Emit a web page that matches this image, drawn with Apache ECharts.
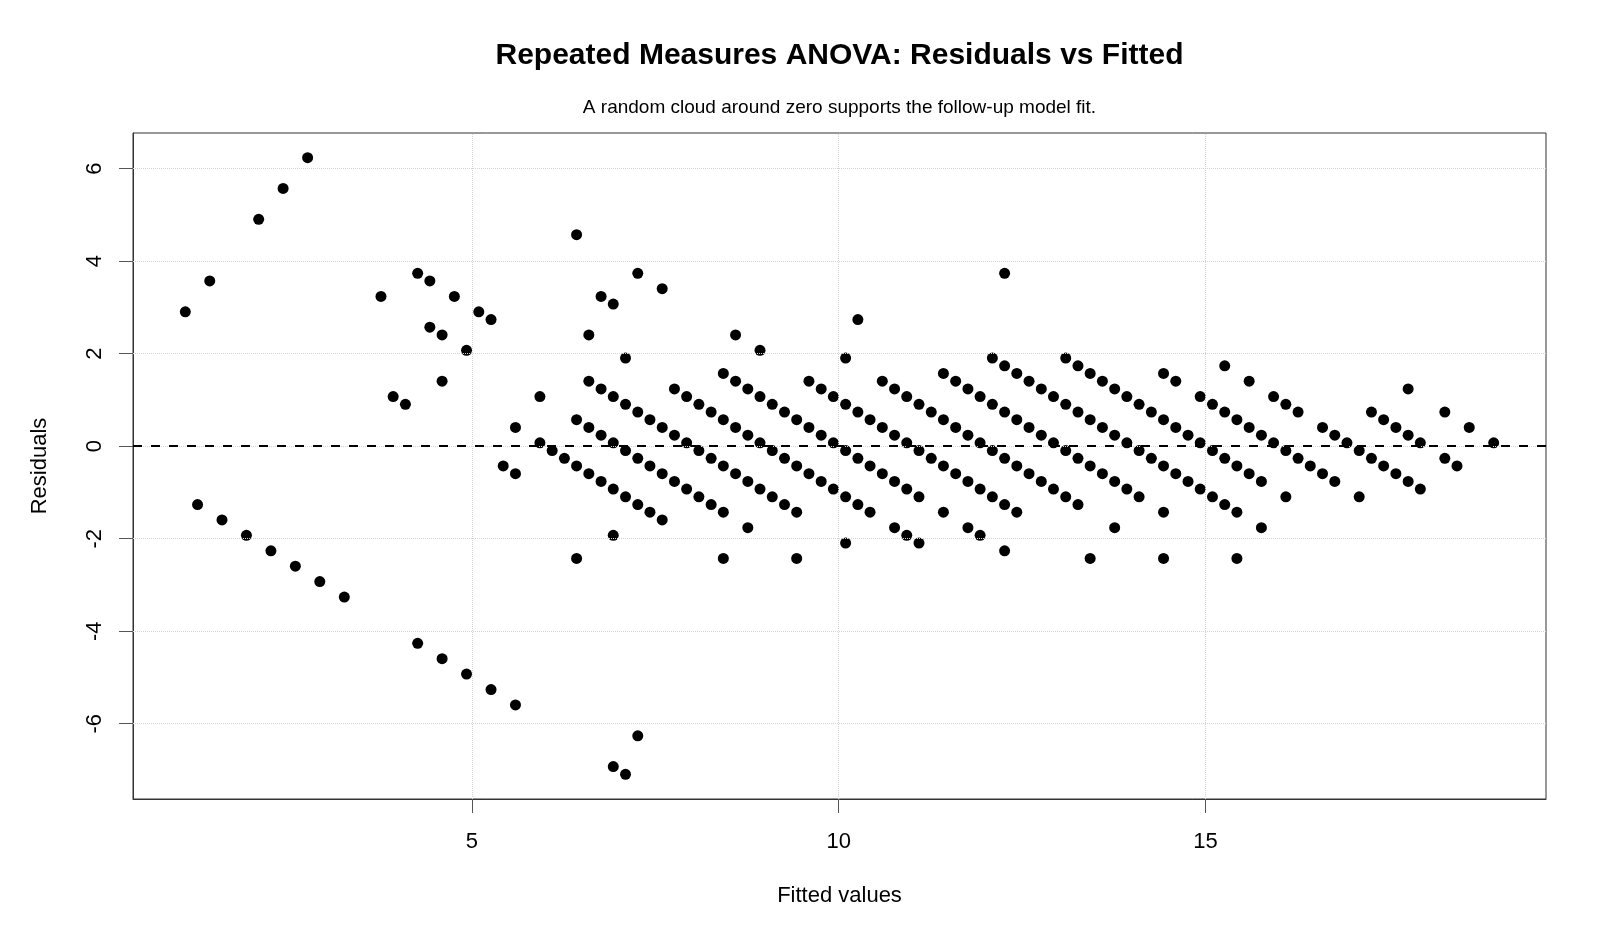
<!DOCTYPE html>
<html>
<head>
<meta charset="utf-8">
<title>Repeated Measures ANOVA: Residuals vs Fitted</title>
<script src="https://cdn.jsdelivr.net/npm/echarts@6.0.0/dist/echarts.min.js"></script>
<style>
  html, body { margin: 0; padding: 0; background: #fff; }
  #chart { width: 1600px; height: 933px; }
</style>
</head>
<body>
<div id="chart"></div>
<script>
// fitted values and residuals (grouped by diagonal)
const fitted = [
  1.261, 1.594, 1.927, 2.261, 2.594, 2.927, 3.261, 4.261, 4.594, 4.927, 5.261, 5.594, 6.927, 7.094,
  7.261,
  1.094, 6.427,
  1.427, 3.927, 4.094, 5.427, 5.594, 6.927,
  4.594, 5.594, 5.927, 6.094, 6.261, 6.427, 6.594, 6.761, 6.927, 7.094, 7.261, 7.427, 7.594, 8.427,
  2.094, 3.761, 4.427, 4.594, 4.927, 5.927, 6.427, 6.594, 6.761, 6.927, 7.094, 7.261, 7.427, 7.594, 7.761, 7.927, 8.094, 8.261, 8.427, 8.761, 9.427,
  2.427, 4.261, 4.427, 4.761, 5.094, 5.261, 6.594, 6.761, 6.927, 7.094, 7.261, 7.427, 7.594, 7.761, 7.927, 8.094, 8.261, 8.427, 8.594, 8.761, 8.927, 9.094, 9.261, 9.427, 10.094,
  2.761, 6.594, 7.094, 7.761, 7.927, 8.094, 8.261, 8.427, 8.594, 8.761, 8.927, 9.094, 9.261, 9.427, 9.594, 9.761, 9.927, 10.094, 10.261, 10.427, 10.761, 10.927, 11.094,
  6.761, 6.927, 8.427, 8.594, 8.761, 8.927, 9.094, 9.261, 9.427, 9.594, 9.761, 9.927, 10.094, 10.261, 10.427, 10.594, 10.761, 10.927, 11.094, 11.427, 11.761, 11.927, 12.261,
  6.427, 7.261, 7.594, 8.594, 8.927, 9.594, 9.761, 9.927, 10.094, 10.261, 10.427, 10.594, 10.761, 10.927, 11.094, 11.261, 11.427, 11.594, 11.761, 11.927, 12.094, 12.261, 12.427, 13.427,
  10.094, 10.594, 10.761, 10.927, 11.094, 11.261, 11.427, 11.594, 11.761, 11.927, 12.094, 12.261, 12.427, 12.594, 12.761, 12.927, 13.094, 13.261, 13.761, 14.427,
  10.261, 11.427, 11.594, 11.761, 11.927, 12.094, 12.261, 12.427, 12.594, 12.761, 12.927, 13.094, 13.261, 13.427, 13.594, 13.761, 13.927, 14.094, 14.427, 15.427,
  12.094, 12.261, 12.427, 12.594, 12.761, 12.927, 13.094, 13.261, 13.427, 13.594, 13.761, 13.927, 14.094, 14.261, 14.427, 14.594, 14.761, 14.927, 15.094, 15.261, 15.427, 15.761,
  13.094, 13.261, 13.427, 13.594, 13.761, 13.927, 14.094, 14.261, 14.427, 14.594, 14.761, 14.927, 15.094, 15.261, 15.427, 15.594, 15.761, 16.094,
  12.261, 14.427, 14.594, 14.927, 15.094, 15.261, 15.427, 15.594, 15.761, 15.927, 16.094, 16.261, 16.427, 16.594, 16.761, 17.094,
  15.261, 15.594, 15.927, 16.094, 16.261, 16.594, 16.761, 16.927, 17.094, 17.261, 17.427, 17.594, 17.761, 17.927,
  17.261, 17.427, 17.594, 17.761, 17.927, 18.261, 18.427,
  17.761, 18.261, 18.594, 18.927
]

const residuals = [
  -1.261, -1.594, -1.927, -2.261, -2.594, -2.927, -3.261, -4.261, -4.594, -4.927, -5.261, -5.594, -6.927, -7.094,
  -6.261,
  2.906, -2.427,
  3.573, 1.073, 0.906, -0.427, -0.594, -1.927,
  1.406, 0.406, 0.073, -0.094, -0.261, -0.427, -0.594, -0.761, -0.927, -1.094, -1.261, -1.427, -1.594, -2.427,
  4.906, 3.239, 2.573, 2.406, 2.073, 1.073, 0.573, 0.406, 0.239, 0.073, -0.094, -0.261, -0.427, -0.594, -0.761, -0.927, -1.094, -1.261, -1.427, -1.761, -2.427,
  5.573, 3.739, 3.573, 3.239, 2.906, 2.739, 1.406, 1.239, 1.073, 0.906, 0.739, 0.573, 0.406, 0.239, 0.073, -0.094, -0.261, -0.427, -0.594, -0.761, -0.927, -1.094, -1.261, -1.427, -2.094,
  6.239, 2.406, 1.906, 1.239, 1.073, 0.906, 0.739, 0.573, 0.406, 0.239, 0.073, -0.094, -0.261, -0.427, -0.594, -0.761, -0.927, -1.094, -1.261, -1.427, -1.761, -1.927, -2.094,
  3.239, 3.073, 1.573, 1.406, 1.239, 1.073, 0.906, 0.739, 0.573, 0.406, 0.239, 0.073, -0.094, -0.261, -0.427, -0.594, -0.761, -0.927, -1.094, -1.427, -1.761, -1.927, -2.261,
  4.573, 3.739, 3.406, 2.406, 2.073, 1.406, 1.239, 1.073, 0.906, 0.739, 0.573, 0.406, 0.239, 0.073, -0.094, -0.261, -0.427, -0.594, -0.761, -0.927, -1.094, -1.261, -1.427, -2.427,
  1.906, 1.406, 1.239, 1.073, 0.906, 0.739, 0.573, 0.406, 0.239, 0.073, -0.094, -0.261, -0.427, -0.594, -0.761, -0.927, -1.094, -1.261, -1.761, -2.427,
  2.739, 1.573, 1.406, 1.239, 1.073, 0.906, 0.739, 0.573, 0.406, 0.239, 0.073, -0.094, -0.261, -0.427, -0.594, -0.761, -0.927, -1.094, -1.427, -2.427,
  1.906, 1.739, 1.573, 1.406, 1.239, 1.073, 0.906, 0.739, 0.573, 0.406, 0.239, 0.073, -0.094, -0.261, -0.427, -0.594, -0.761, -0.927, -1.094, -1.261, -1.427, -1.761,
  1.906, 1.739, 1.573, 1.406, 1.239, 1.073, 0.906, 0.739, 0.573, 0.406, 0.239, 0.073, -0.094, -0.261, -0.427, -0.594, -0.761, -1.094,
  3.739, 1.573, 1.406, 1.073, 0.906, 0.739, 0.573, 0.406, 0.239, 0.073, -0.094, -0.261, -0.427, -0.594, -0.761, -1.094,
  1.739, 1.406, 1.073, 0.906, 0.739, 0.406, 0.239, 0.073, -0.094, -0.261, -0.427, -0.594, -0.761, -0.927,
  0.739, 0.573, 0.406, 0.239, 0.073, -0.261, -0.427,
  1.239, 0.739, 0.406, 0.073
]

const xTicks = [5, 10, 15]
const yTicks = [-6, -4, -2, 0, 2, 4, 6]

const FONT = '"Liberation Sans", Arial, Helvetica, sans-serif'

const chart = echarts.init(document.getElementById('chart'), null, { renderer: 'canvas' })

const points = fitted.map((x, i) => [x, residuals[i]])

const option = {
  animation: false,
  backgroundColor: '#ffffff',
  textStyle: { fontFamily: FONT },
  graphic: [
    {
      type: 'text',
      x: 839.5,
      y: 56,
      style: {
        text: 'Repeated Measures ANOVA: Residuals vs Fitted',
        font: 'bold 30px ' + FONT,
        fill: '#000',
        textAlign: 'center',
        textVerticalAlign: 'middle',
        align: 'center',
        verticalAlign: 'middle'
      }
    },
    {
      type: 'text',
      x: 839.5,
      y: 108,
      style: {
        text: 'A random cloud around zero supports the follow-up model fit.',
        font: '19px ' + FONT,
        fill: '#000',
        textAlign: 'center',
        textVerticalAlign: 'middle',
        align: 'center',
        verticalAlign: 'middle'
      }
    }
  ],
  grid: {
    left: 133,
    right: 54,
    top: 133,
    bottom: 134,
    show: true,
    borderColor: '#333',
    borderWidth: 1,
    outerBoundsMode: 'none'
  },
  xAxis: {
    type: 'value',
    min: 0.381,
    max: 19.64,
    name: 'Fitted values',
    nameLocation: 'middle',
    nameGap: 86,
    nameTextStyle: { fontSize: 22, color: '#000', fontFamily: FONT },
    axisLine: { show: true, onZero: false, lineStyle: { color: '#333', width: 1 } },
    axisTick: { show: true, inside: false, length: 14, customValues: xTicks, lineStyle: { color: '#555', width: 1 } },
    axisLabel: { show: true, margin: 32, fontSize: 22, color: '#000', fontFamily: FONT, customValues: xTicks },
    splitLine: { show: false }
  },
  yAxis: {
    type: 'value',
    min: -7.627,
    max: 6.772,
    name: 'Residuals',
    nameLocation: 'middle',
    nameGap: 82,
    nameRotate: 90,
    nameTextStyle: { fontSize: 22, color: '#000', fontFamily: FONT },
    axisLine: { show: true, onZero: false, lineStyle: { color: '#333', width: 1 } },
    axisTick: { show: true, inside: false, length: 14, customValues: yTicks, lineStyle: { color: '#555', width: 1 } },
    axisLabel: { show: true, margin: 27, rotate: 90, fontSize: 22, color: '#000', fontFamily: FONT, customValues: yTicks },
    splitLine: { show: false }
  },
  series: [
    {
      // light dotted reference grid
      type: 'scatter',
      data: [],
      z: 1,
      silent: true,
      markLine: {
        silent: true,
        symbol: 'none',
        label: { show: false },
        emphasis: { disabled: true },
        lineStyle: { color: '#d3d3d3', type: 'dotted', width: 1 },
        data: xTicks.map(v => ({ xAxis: v })).concat(yTicks.map(v => ({ yAxis: v })))
      }
    },
    {
      name: 'Residuals',
      type: 'scatter',
      data: points,
      symbol: 'circle',
      symbolSize: 11,
      z: 2,
      itemStyle: { color: '#000', opacity: 1 },
      emphasis: { disabled: true }
    },
    {
      // dashed zero line
      type: 'scatter',
      data: [],
      z: 3,
      silent: true,
      markLine: {
        silent: true,
        symbol: 'none',
        label: { show: false },
        emphasis: { disabled: true },
        lineStyle: { color: '#000', type: [9, 9], width: 2 },
        data: [{ yAxis: 0 }]
      }
    }
  ]
}

chart.setOption(option)
</script>
</body>
</html>
